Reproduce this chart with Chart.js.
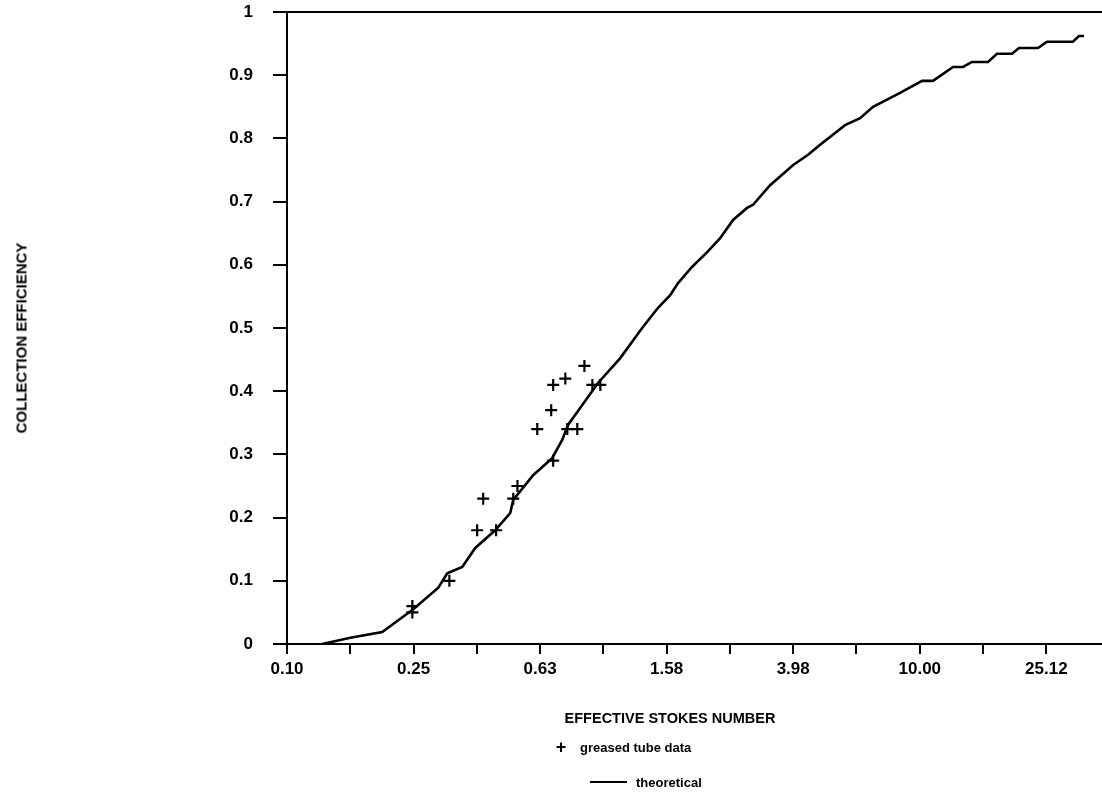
<!DOCTYPE html>
<html>
<head>
<meta charset="utf-8">
<script src="https://cdn.jsdelivr.net/npm/chart.js@4/dist/chart.umd.min.js"></script>
<style>
  html, body { margin: 0; padding: 0; background: #fff; }
  #wrap { position: relative; width: 1102px; height: 795px; overflow: hidden; font-family: "Liberation Sans", Arial, sans-serif; color: #000; }
  #chartBox { position: absolute; left: 0; top: 0; width: 1102px; height: 795px; }
  .lbl { position: absolute; white-space: nowrap; }
  #xTitle { left: 670px; top: 718px; transform: translate(-50%, -50%); font-size: 14.5px; font-weight: bold; }
  #yTitle { left: 21px; top: 338px; transform: translate(-50%, -50%) rotate(-90deg); font-size: 15px; font-weight: bold; }
  #lg1sym { left: 561px; top: 747px; transform: translate(-50%, -50%); font-size: 18px; font-weight: bold; }
  #lg1txt { left: 580px; top: 747px; transform: translateY(-50%); font-size: 13px; font-weight: bold; }
  #lg2sym { left: 590px; top: 781px; width: 37px; height: 0; border-top: 2px solid #000; }
  #lg2txt { left: 636px; top: 782px; transform: translateY(-50%); font-size: 13px; font-weight: bold; }
</style>
</head>
<body>
<div id="wrap">
  <div id="chartBox"><canvas id="c"></canvas></div>
  <div class="lbl" id="xTitle">EFFECTIVE STOKES NUMBER</div>
  <div class="lbl" id="yTitle">COLLECTION EFFICIENCY</div>
  <div class="lbl" id="lg1sym">+</div>
  <div class="lbl" id="lg1txt">greased tube data</div>
  <div class="lbl" id="lg2sym"></div>
  <div class="lbl" id="lg2txt">theoretical</div>
</div>
<script>
// ---- data ----
const dataStokes = [0.249, 0.249, 0.326, 0.399, 0.417, 0.458, 0.519, 0.535, 0.618, 0.684, 0.694, 0.694, 0.758, 0.769, 0.827, 0.871, 0.923, 0.978];
const dataEff    = [0.06,  0.05,  0.10,  0.18,  0.23,  0.18,  0.23,  0.25,  0.34,  0.37,  0.41,  0.29,  0.42,  0.34,  0.34,  0.44,  0.41,  0.41];

const theoStokes = [0.1293, 0.1585, 0.200, 0.2506, 0.3008, 0.321, 0.358, 0.3936, 0.455, 0.5075, 0.5188, 0.5998, 0.6887, 0.741, 0.774, 0.9616, 1.129, 1.326, 1.489, 1.626, 1.722, 1.909, 2.128, 2.339, 2.570, 2.845, 2.972, 3.365, 3.981, 4.436, 4.842, 5.806, 6.477, 7.118, 8.663, 10.17, 11.01, 12.74, 13.70, 14.62, 16.44, 17.54, 19.58, 20.59, 23.64, 25.24, 30.48, 31.85, 33.04];
const theoEff    = [0.000, 0.010, 0.019, 0.055, 0.089, 0.112, 0.122, 0.152, 0.180, 0.207, 0.228, 0.267, 0.294, 0.323, 0.347, 0.413, 0.452, 0.500, 0.532, 0.552, 0.571, 0.597, 0.620, 0.642, 0.671, 0.690, 0.695, 0.726, 0.758, 0.774, 0.790, 0.821, 0.832, 0.850, 0.872, 0.891, 0.891, 0.913, 0.913, 0.921, 0.921, 0.934, 0.934, 0.943, 0.943, 0.953, 0.953, 0.962, 0.962];

const xTickValues = [0.1, 0.1585, 0.2512, 0.3981, 0.6310, 1.0, 1.585, 2.512, 3.981, 6.310, 10.0, 15.85, 25.12];
const xTickLabels = ['0.10', '', '0.25', '', '0.63', '', '1.58', '', '3.98', '', '10.00', '', '25.12'];
const yTickValues = [0, 0.1, 0.2, 0.3, 0.4, 0.5, 0.6, 0.7, 0.8, 0.9, 1];
const yTickLabels = ['0', '0.1', '0.2', '0.3', '0.4', '0.5', '0.6', '0.7', '0.8', '0.9', '1'];
const xMin = 0.1, xMax = 37.67;

const pts = (xs, ys) => xs.map((x, i) => ({ x: x, y: ys[i] }));

const tickFont = { family: '"Liberation Sans", Arial, sans-serif', size: 17, weight: 'bold' };
const zeroPad = (s) => { s.paddingLeft = 0; s.paddingRight = 0; s.paddingTop = 0; s.paddingBottom = 0; };

new Chart(document.getElementById('c'), {
  type: 'scatter',
  data: {
    datasets: [
      {
        label: 'greased tube data',
        data: pts(dataStokes, dataEff),
        pointStyle: 'cross',
        pointRadius: 6,
        pointHoverRadius: 6,
        borderColor: '#000',
        backgroundColor: '#000',
        borderWidth: 2.2,
        showLine: false
      },
      {
        label: 'theoretical',
        data: pts(theoStokes, theoEff),
        showLine: true,
        pointRadius: 0,
        borderColor: '#000',
        borderWidth: 2.6,
        tension: 0,
        fill: false
      }
    ]
  },
  options: {
    responsive: true,
    maintainAspectRatio: false,
    animation: false,
    events: [],
    layout: { autoPadding: false, padding: { left: 0, right: 0, top: 12, bottom: 0 } },
    plugins: { legend: { display: false }, tooltip: { enabled: false } },
    scales: {
      x: {
        type: 'logarithmic',
        position: 'bottom',
        min: xMin,
        max: xMax,
        afterBuildTicks: (scale) => { scale.ticks = xTickValues.map(v => ({ value: v })); },
        afterFit: (scale) => { scale.height = 151; zeroPad(scale); },
        ticks: {
          autoSkip: false,
          maxRotation: 0,
          color: '#000',
          font: tickFont,
          padding: 5,
          callback: function (value, index) { return xTickLabels[index]; }
        },
        grid: { drawOnChartArea: false, drawTicks: true, tickLength: 10, color: '#000', lineWidth: 2 },
        border: { display: true, color: '#000', width: 2 }
      },
      xTop: {
        type: 'linear',
        position: 'top',
        display: true,
        min: 0, max: 1,
        afterFit: (scale) => { scale.height = 0; zeroPad(scale); },
        ticks: { display: false },
        grid: { display: false, drawTicks: false, drawOnChartArea: false },
        border: { display: true, color: '#000', width: 2 }
      },
      y: {
        type: 'linear',
        position: 'left',
        min: 0,
        max: 1,
        afterBuildTicks: (scale) => { scale.ticks = yTickValues.map(v => ({ value: v })); },
        afterFit: (scale) => { scale.width = 287; zeroPad(scale); },
        ticks: {
          color: '#000',
          font: tickFont,
          padding: 20,
          callback: function (value, index) { return yTickLabels[index]; }
        },
        grid: { drawOnChartArea: false, drawTicks: true, tickLength: 14, color: '#000', lineWidth: 2 },
        border: { display: true, color: '#000', width: 2 }
      }
    }
  }
});
</script>
</body>
</html>
